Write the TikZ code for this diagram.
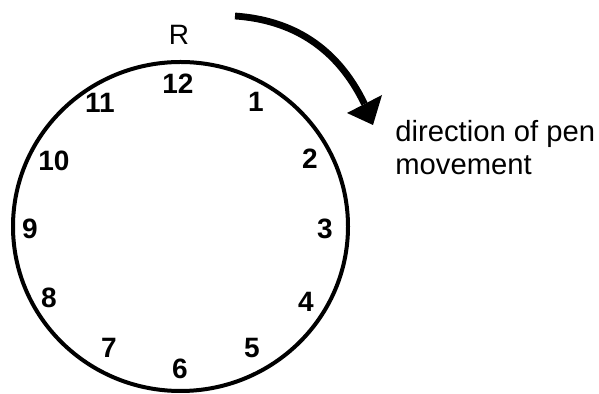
\documentclass[tikz,border=0pt]{standalone}
\usepackage{fontspec}
\setmainfont{Liberation Sans}
\begin{document}
\begin{tikzpicture}[x=0.5pt,y=-0.5pt,
  num/.style={font=\fontsize{14}{16}\selectfont\bfseries, inner sep=0pt},
  lbl/.style={font=\fontsize{14}{16.5}\selectfont, inner sep=0pt},
  dirlbl/.style={font=\fontsize{14.6}{16.5}\selectfont, inner sep=0pt},
  rim/.style={line width=2pt},
  bigarrow/.style={line width=3.4pt}]
\useasboundingbox (0,0) rectangle (599,394);
\draw[rim] (180.5,226.5) ellipse [x radius=167.5, y radius=164.5];
\node[num] (n12) at (178,84) {12};
\node[num] (n1) at (256,102) {1};
\node[num] (n2) at (310,159) {2};
\node[num] (n3) at (325,229) {3};
\node[num] (n4) at (306,302) {4};
\node[num] (n5) at (252,348) {5};
\node[num] (n6) at (180,369) {6};
\node[num] (n7) at (109,348) {7};
\node[num] (n8) at (49,298) {8};
\node[num] (n9) at (30,229) {9};
\node[num] (n10) at (54,161) {10};
\node[num] (n11) at (100,103) {11};
\node[lbl] (R) at (179,35) {R};
\coordinate (a0) at (235,16);
\coordinate (a1) at (364.5,104);
\draw[bigarrow] (a0) .. controls (292,20) and (337,47) .. (a1);
\fill (347,113) -- (373,125) -- (382,95) -- cycle;
\node[dirlbl, anchor=base west, align=left] (dir) at (395,175) {direction of pen\\movement};
\end{tikzpicture}
\end{document}
